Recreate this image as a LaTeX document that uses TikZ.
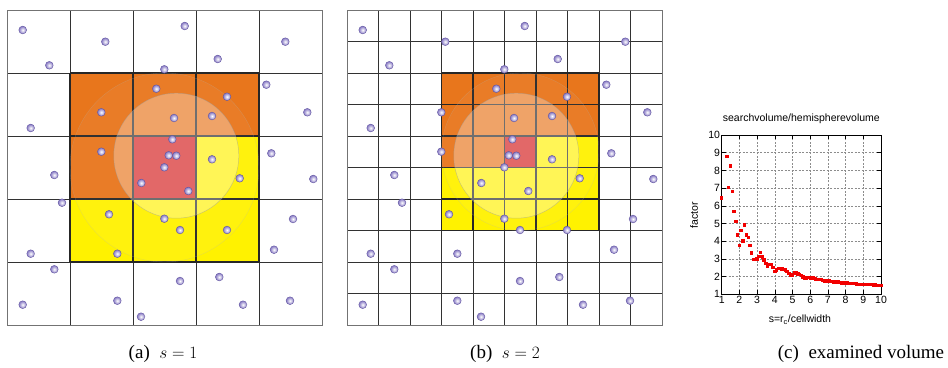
\documentclass[tikz,border=0pt]{standalone}
\usepackage{fontspec}
\setmainfont{Liberation Serif}
\newfontfamily\plotfont{Liberation Sans}
\usetikzlibrary{positioning}

\definecolor{cellorange}{RGB}{232,118,28}
\definecolor{cellred}{RGB}{212,28,28}
\definecolor{cellyellow}{RGB}{255,242,0}
\definecolor{partfill}{RGB}{134,120,196}
\definecolor{partrim}{RGB}{96,84,160}
\definecolor{gridgray}{RGB}{50,50,50}

\tikzset{
  thingrid/.style={draw=gridgray, line width=0.9pt},
  thickgrid/.style={draw=black!85, line width=1.7pt},
  border/.style={draw=black!55, line width=1pt},
  cutoff/.style={fill=white, fill opacity=0.3, draw=black!40, draw opacity=0.5, line width=0.5pt},
  outersphere/.style={fill=white, fill opacity=0.05, draw=black!30, draw opacity=0.3, line width=0.4pt},
  particle/.style={inner color=white, outer color=partfill, draw=partrim, line width=0.4pt},
  plotgrid/.style={draw=black!45, line width=0.5pt, dash pattern=on 2pt off 1.5pt},
  datapoint/.style={fill=red!95!black},
  caption/.style={font=\fontsize{19}{22}\selectfont, inner sep=0pt, anchor=base},
  plotlabel/.style={font=\plotfont\fontsize{10.5}{12}\selectfont, inner sep=1.5pt},
}

% particles, same positions in both panels
\newcommand{\drawparticles}{%
  \foreach \px/\py in {22.7/30, 49.3/65.3, 105.3/41.7, 184.7/26, 164.3/69.3, 217.7/59, 285.3/41.7,
    30.7/128, 101.3/112.3, 156.3/88.7, 227/96.7, 174/118, 212/116, 266.3/84.7, 307.3/112.3,
    54.3/175, 101.3/151.7, 172.3/139.3, 168.7/155.3, 176.3/155.7, 164.3/167.3, 141.3/183,
    188.3/191, 212/159.3, 239.7/178.3, 271.3/153.3, 313.3/179,
    62/202.7, 109/214.3, 164.3/218.7, 180/230, 227/230, 293/219, 30.7/253.7, 117.3/253.7, 274/249.7,
    54.3/269.3, 22.7/304.7, 117.3/300.7, 141/316.7, 180/281, 219.3/277, 243/304.7, 290/300.7}
    {\shadedraw[particle] (\px,\py) circle (3.9);}%
}

\begin{document}
\begin{tikzpicture}[x=1pt, y=-1pt]

\fill[white] (0,0) rectangle (948,367);
\useasboundingbox (0,0) rectangle (948,367);

% ---------- (a) s = 1 ----------

\fill[cellorange] (70,73) rectangle (259,136);
\fill[cellorange] (70,136) rectangle (133,199);
\fill[cellred] (133,136) rectangle (196,199);
\fill[cellyellow] (196,136) rectangle (259,199);
\fill[cellyellow] (70,199) rectangle (259,262);

\foreach \k in {1,...,4} {
  \draw[thingrid] (7+63*\k,10) -- (7+63*\k,325);
  \draw[thingrid] (7,10+63*\k) -- (322,10+63*\k);
}
\draw[border] (7,10) rectangle (322,325);
\foreach \k in {0,...,3} {
  \draw[thickgrid] (70+63*\k,73) -- (70+63*\k,262);
  \draw[thickgrid] (70,73+63*\k) -- (259,73+63*\k);
}

\filldraw[outersphere] (164.5,167.5) circle (94.5);
\filldraw[cutoff] (176.3,155.7) circle (62.5);
\drawparticles

\node[caption] (capa) at (163,358) {(a)\enspace$s=1$};

% ---------- (b) s = 2 ----------

\begin{scope}[shift={(340,0)}]
\fill[cellorange] (101.5,73) rectangle (259,136);
\fill[cellorange] (101.5,136) rectangle (164.5,167.5);
\fill[cellred] (164.5,136) rectangle (196,167.5);
\fill[cellyellow] (196,136) rectangle (259,167.5);
\fill[cellyellow] (101.5,167.5) rectangle (259,230.5);

\foreach \k in {1,...,9} {
  \draw[thingrid] (7+31.5*\k,10) -- (7+31.5*\k,325);
  \draw[thingrid] (7,10+31.5*\k) -- (322,10+31.5*\k);
}
\draw[border] (7,10) rectangle (322,325);
\foreach \k in {0,...,5} {
  \draw[thickgrid] (101.5+31.5*\k,73) -- (101.5+31.5*\k,230.5);
  \draw[thickgrid] (101.5,73+31.5*\k) -- (259,73+31.5*\k);
}

\filldraw[outersphere] (180.25,151.75) circle (78.75);
\filldraw[cutoff] (176.3,155.7) circle (62.5);
\drawparticles
\end{scope}

\node[caption] (capb) at (505,358) {(b)\enspace$s=2$};

% ---------- (c) examined volume ----------

\begin{scope}[shift={(704,312)}, x=17.7pt, y=17.7pt]
\foreach \i in {2,...,9} {
  \draw[plotgrid] (\i,1) -- (\i,10);
  \draw[plotgrid] (1,\i) -- (10,\i);
}
\foreach \i in {1,...,10} {
  \draw[line width=0.6pt] (\i,1) -- ++(0,4pt) (\i,10) -- ++(0,-4pt);
  \draw[line width=0.6pt] (1,\i) -- ++(4pt,0) (10,\i) -- ++(-4pt,0);
  \node[plotlabel, below] (xt\i) at (\i,1) {\i};
  \node[plotlabel, left] (yt\i) at (1,\i) {\i};
}
\draw[line width=1pt] (1,1) rectangle (10,10);

\foreach \dx/\dy in {1.0/6.44, 1.3/8.78, 1.4/7.05, 1.5/8.25, 1.6/6.82, 1.7/5.69, 1.8/5.10,
    1.9/4.35, 2.0/3.75, 2.1/4.62, 2.2/4.01, 2.3/4.92, 2.4/4.35, 2.5/4.22, 2.6/3.75, 2.7/3.34,
    2.8/2.98, 2.9/2.98, 3.0/3.00, 3.1/3.13, 3.2/3.35, 3.3/3.10, 3.4/2.94, 3.5/2.75, 3.6/2.56,
    3.7/2.69, 3.8/2.69, 3.9/2.50, 4.0/2.28, 4.1/2.37, 4.2/2.47, 4.3/2.45, 4.4/2.43, 4.5/2.40,
    4.6/2.38, 4.7/2.30, 4.8/2.18, 4.9/2.10, 5.0/2.10, 5.1/2.22, 5.2/2.20, 5.3/2.14, 5.4/2.12,
    5.5/2.05, 5.6/1.98, 5.7/1.93, 5.8/1.92, 5.9/1.95, 6.0/1.93, 6.1/1.90, 6.2/1.92, 6.3/1.86,
    6.4/1.82, 6.5/1.85, 6.6/1.83, 6.7/1.78, 6.8/1.76, 6.9/1.72, 7.0/1.75, 7.1/1.76, 7.2/1.73,
    7.3/1.70, 7.4/1.69, 7.5/1.68, 7.6/1.70, 7.7/1.66, 7.8/1.64, 7.9/1.65, 8.0/1.64, 8.1/1.63,
    8.2/1.62, 8.3/1.62, 8.4/1.60, 8.5/1.60, 8.6/1.58, 8.7/1.57, 8.8/1.57, 8.9/1.56, 9.0/1.55,
    9.1/1.55, 9.2/1.55, 9.3/1.54, 9.4/1.55, 9.5/1.56, 9.6/1.53, 9.7/1.52, 9.8/1.51, 9.9/1.50,
    10.0/1.49}
  {\fill[datapoint] (\dx,\dy) ++(-1.7pt,-1.7pt) rectangle ++(3.4pt,3.4pt);}

\node[plotlabel] (title) at (5.5,10.9) {searchvolume/hemispherevolume};
\node[plotlabel, rotate=90] (ylab) at (-0.56,5.48) {factor};
\node[plotlabel] (xlab) at (5.42,-0.45) {s=r\textsubscript{c}/cellwidth};
\end{scope}

\node[caption] (capc) at (861,358) {(c)\enspace examined volume};

\end{tikzpicture}
\end{document}
